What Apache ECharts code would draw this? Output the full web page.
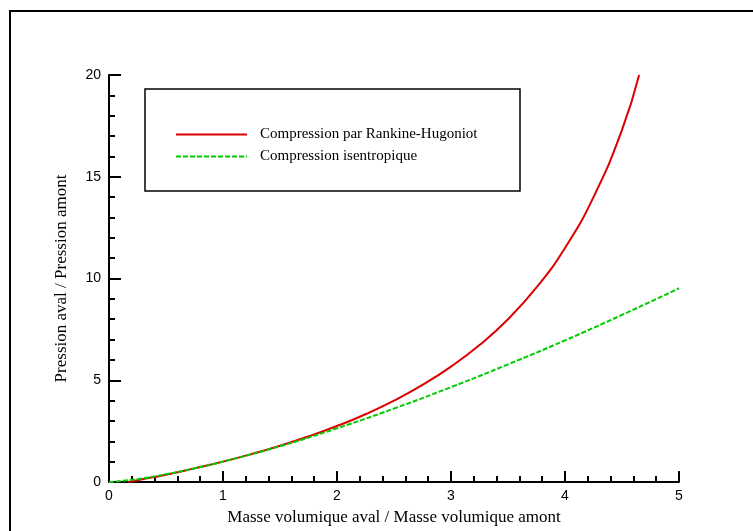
<!DOCTYPE html>
<html>
<head>
<meta charset="utf-8">
<script src="https://cdn.jsdelivr.net/npm/echarts@6/dist/echarts.min.js"></script>
<style>
  html, body { margin: 0; padding: 0; background: #fff; }
  #main { width: 753px; height: 531px; }
</style>
</head>
<body>
<div id="main"></div>
<script>
// valeurs
var rhoRH = [0.17, 0.25, 0.5, 0.75, 1, 1.25, 1.5, 1.75, 2, 2.25, 2.5, 2.75, 3, 3.25, 3.5, 3.75, 4, 4.25, 4.5, 4.65];
var pRH   = [0, 0.09, 0.36, 0.67, 1, 1.37, 1.78, 2.24, 2.75, 3.33, 4.0, 4.77, 5.67, 6.73, 8.0, 9.56, 11.5, 14.0, 17.3, 20.0];
var rhoIso = [0, 0.25, 0.5, 0.75, 1, 1.5, 2, 2.5, 3, 3.5, 4, 4.5, 5];
var pIso   = [0, 0.14, 0.38, 0.67, 1, 1.76, 2.64, 3.61, 4.66, 5.78, 6.96, 8.21, 9.52];
var xTicks = [0, 1, 2, 3, 4, 5];
var yTicks = [0, 5, 10, 15, 20];
var legendNames = ['Compression par Rankine-Hugoniot', 'Compression isentropique'];

var pairs = function(xs, ys){
	return xs.map(function(x, i){ return [x, ys[i]]; });
};

var serif = 'Liberation Serif';
var sans = 'Liberation Sans';

var chart = echarts.init(document.getElementById('main'));

var option = {
	animation: false,
	grid: { left: 109, right: 74, top: 75, bottom: 49 },
	graphic: [
		// cadre de la figure
		{
			type: 'rect',
			shape: { x: 10, y: 11, width: 800, height: 600 },
			style: { fill: 'none', stroke: '#000', lineWidth: 2 }
		},
		// cadre de la legende
		{
			type: 'rect',
			shape: { x: 145, y: 89, width: 375, height: 102 },
			style: { fill: 'none', stroke: '#000', lineWidth: 1.5 }
		}
	],
	legend: {
		orient: 'vertical',
		left: 145,
		top: 89,
		padding: [38, 20, 20, 30],
		itemWidth: 71,
		itemHeight: 14,
		itemGap: 7,
		data: legendNames,
		itemStyle: { opacity: 0 },
		textStyle: { fontFamily: serif, fontSize: 15, color: '#000', padding: [0, 0, 0, 8] }
	},
	xAxis: {
		type: 'value',
		min: xTicks[0],
		max: xTicks[xTicks.length - 1],
		interval: 1,
		name: 'Masse volumique aval / Masse volumique amont',
		nameLocation: 'middle',
		nameGap: 27,
		nameTextStyle: { fontFamily: serif, fontSize: 17, color: '#000' },
		axisLine: { lineStyle: { color: '#000', width: 2 } },
		axisTick: { inside: true, length: 11, lineStyle: { color: '#000', width: 2 } },
		minorTick: { show: true, splitNumber: 5, length: 6, lineStyle: { color: '#000', width: 2 } },
		axisLabel: { fontFamily: sans, fontSize: 14, color: '#000', margin: 7 },
		splitLine: { show: false }
	},
	yAxis: {
		type: 'value',
		min: yTicks[0],
		max: yTicks[yTicks.length - 1],
		interval: 5,
		name: 'Pression aval / Pression amont',
		nameLocation: 'middle',
		nameGap: 39,
		nameTextStyle: { fontFamily: serif, fontSize: 17, color: '#000' },
		axisLine: { show: true, lineStyle: { color: '#000', width: 2 } },
		axisTick: { show: true, inside: true, length: 12, lineStyle: { color: '#000', width: 2 } },
		minorTick: { show: true, splitNumber: 5, length: 6, lineStyle: { color: '#000', width: 2 } },
		axisLabel: { fontFamily: sans, fontSize: 14, color: '#000', margin: 8 },
		splitLine: { show: false }
	},
	series: [
		{
			name: legendNames[0],
			type: 'line',
			smooth: true,
			symbol: 'none',
			data: pairs(rhoRH, pRH),
			lineStyle: { color: '#dd0000', width: 2 },
			itemStyle: { color: '#dd0000' },
			z: 3
		},
		{
			name: legendNames[1],
			type: 'line',
			smooth: true,
			symbol: 'none',
			data: pairs(rhoIso, pIso),
			lineStyle: { color: '#00cc00', width: 2, type: [5, 2] },
			itemStyle: { color: '#00cc00' },
			z: 4
		}
	]
};

chart.setOption(option);
</script>
</body>
</html>
